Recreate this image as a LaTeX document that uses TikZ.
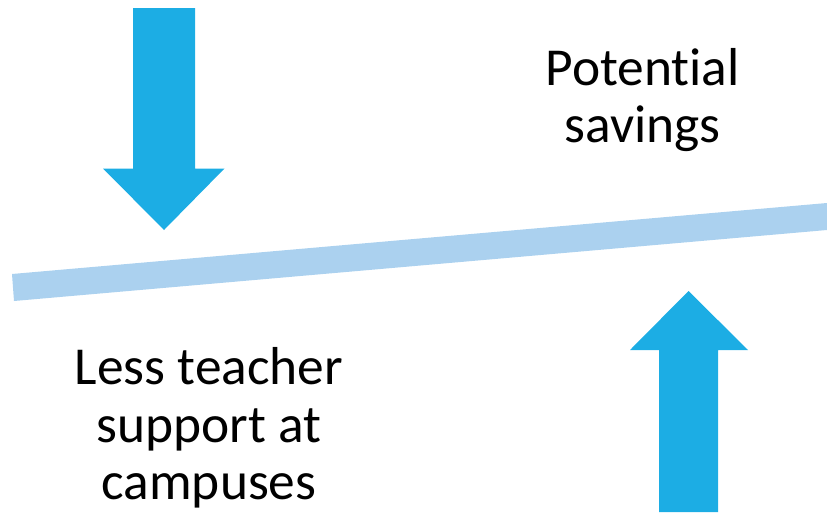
\documentclass[tikz,border=0pt]{standalone}
\usepackage{fontspec}
\setmainfont[Ligatures=NoCommon]{Carlito}
\definecolor{arrowblue}{HTML}{1CADE4}
\definecolor{barblue}{HTML}{ABD1EF}
\tikzset{arrowshape/.style={fill=arrowblue,draw=none},
barshape/.style={fill=barblue,draw=none},
label/.style={align=center,font=\fontsize{53.4}{57.5}\selectfont,inner sep=0pt,text=black}}
\begin{document}
\begin{tikzpicture}[x=1pt,y=-1pt]
\useasboundingbox (0,0) rectangle (827,512);
\fill[arrowshape] (133,8)--(195,8)--(195,168.5)--(224.5,168.5)--(164,230)--(103,168.5)--(133,168.5)--cycle;
\fill[arrowshape] (659,512)--(718,512)--(718,350)--(748,350)--(688.5,291)--(630,350)--(659,350)--cycle;
\fill[barshape] (12,274)--(827,203)--(827,230)--(14,301)--cycle;
\node[label] (savings) at (642.7,100) {Potential\\savings};
\node[label] (teacher) at (209,428) {Less teacher\\support at\\campuses};
\end{tikzpicture}
\end{document}
